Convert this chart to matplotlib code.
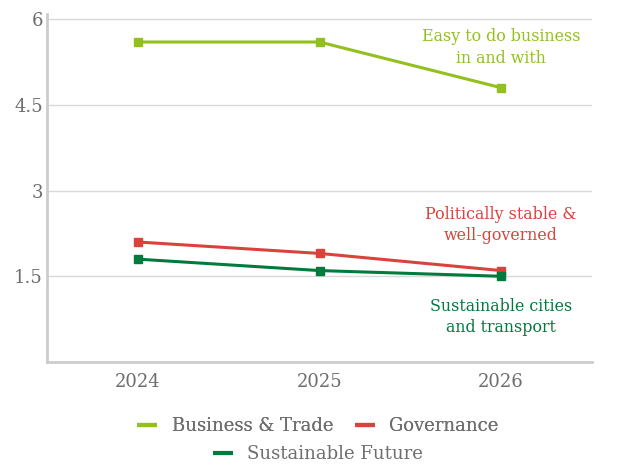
import matplotlib.pyplot as plt
from matplotlib.lines import Line2D

years = ["2024", "2025", "2026"]
business_trade = [5.6, 5.6, 4.8]
governance = [2.1, 1.9, 1.6]
sustainable_future = [1.8, 1.6, 1.5]
series_names = ["Business & Trade", "Governance", "Sustainable Future"]
y_ticks = [1.5, 3, 4.5, 6]
y_tick_labels = ["1.5", "3", "4.5", "6"]
end_labels = ["Easy to do business\nin and with",
              "Politically stable &\nwell-governed",
              "Sustainable cities\nand transport"]

colors = ["#93c01f", "#d9433b", "#007a3d"]
text_gray = "#6e6e6e"
font = "DejaVu Serif"

fig = plt.figure(figsize=(6.18, 4.66), dpi=100)
ax = fig.add_axes([47 / 618, 1 - 362 / 466, 545 / 618, 348 / 466])

x = list(range(len(years)))
for vals, c in zip([business_trade, governance, sustainable_future], colors):
    ax.plot(x, vals, color=c, lw=2.2, marker="s", markersize=6, zorder=3)

ax.set_xlim(-0.5, 2.5)
ax.set_ylim(0, 6.09)
ax.set_xticks(x)
ax.set_xticklabels(years)
ax.set_yticks(y_ticks)
ax.set_yticklabels(y_tick_labels)
ax.grid(axis="y", color="#d9d9d9", lw=1)
ax.set_axisbelow(True)
for s in ["top", "right"]:
    ax.spines[s].set_visible(False)
for s in ["left", "bottom"]:
    ax.spines[s].set_color("#cccccc")
    ax.spines[s].set_linewidth(2)
ax.tick_params(axis="y", length=0, labelsize=13, labelcolor=text_gray, pad=3)
ax.tick_params(axis="x", length=0, labelsize=13, labelcolor=text_gray, pad=8)
for lab in ax.get_xticklabels() + ax.get_yticklabels():
    lab.set_family(font)

# End-of-series descriptions
label_y = [5.50, 2.40, 0.79]
for txt, yy, c in zip(end_labels, label_y, colors):
    ax.text(2, yy, txt, color=c, ha="center", va="center",
            fontsize=11.4, family=font, linespacing=1.35)

handles = [Line2D([0], [0], color=c, lw=3, solid_capstyle="butt") for c in colors]
leg1 = fig.legend(handles[:2], series_names[:2], loc="center",
                  bbox_to_anchor=(318 / 618, 1 - 426 / 466), ncol=2, frameon=False,
                  prop={"family": font, "size": 13}, handlelength=1.1,
                  columnspacing=1.2, handletextpad=0.8)
for t in leg1.get_texts():
    t.set_color(text_gray)
leg2 = fig.legend(handles[2:], series_names[2:], loc="center",
                  bbox_to_anchor=(318 / 618, 1 - 454 / 466), ncol=1, frameon=False,
                  prop={"family": font, "size": 13}, handlelength=1.1,
                  handletextpad=0.8)
for t in leg2.get_texts():
    t.set_color(text_gray)
fig.add_artist(leg1)

fig.savefig("out.png", dpi=100)
